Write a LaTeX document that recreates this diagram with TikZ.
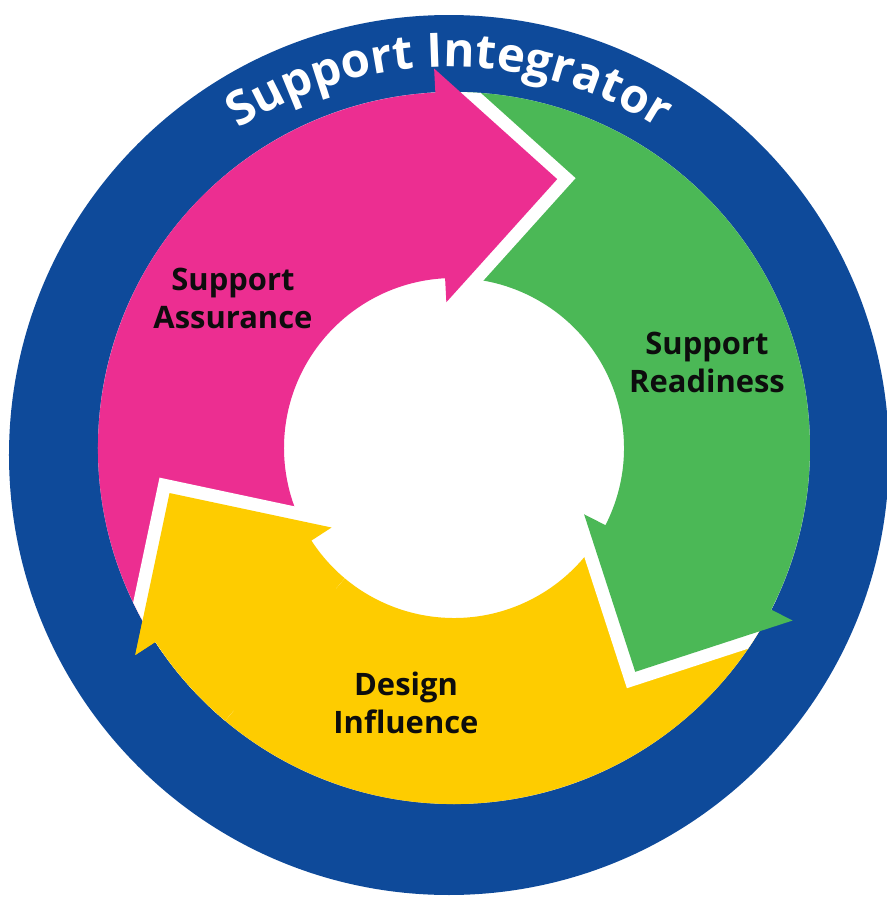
\documentclass[tikz,border=0pt]{standalone}
\usepackage{fontspec}
\setmainfont{Open Sans}
\usetikzlibrary{decorations.text}

\definecolor{ringblauw}{RGB}{14,74,154}
\definecolor{roze}{RGB}{236,46,145}
\definecolor{groen}{RGB}{75,184,86}
\definecolor{geel}{RGB}{254,204,0}

% vorm van een pijl, kop bij hoek #1
\newcommand{\pijlvorm}[1]{(#1+120:3.56) arc[start angle=#1+120, end angle=#1, radius=3.56]
  -- (#1:3.80) -- (#1-24:2.88) -- (#1:1.46) -- (#1:1.70)
  arc[start angle=#1, end angle=#1+120, radius=1.70] -- cycle}
% pijl met witte rand binnen de ring
\newcommand{\pijl}[2]{%
  \begin{scope}
    \clip (0,0) circle (3.56);
    \draw[white, line width=2.6mm] \pijlvorm{#1};
  \end{scope}
  \fill[#2] \pijlvorm{#1};}

\tikzset{
  bijschrift/.style={font=\fontsize{8.8}{10.8}\selectfont\bfseries, align=center, text=black!95}
}

\begin{document}
\begin{tikzpicture}
\useasboundingbox (-4.54,-4.49) rectangle (4.33,4.48);
% Blauwe ring
\fill[ringblauw] (-0.05,-0.07) circle (4.40);
\fill[white] (0,0) circle (1.70);
% Pijlen
\pijl{213}{geel}
\pijl{-27}{groen}
\pijl{93}{roze}
% gele kop nog eens over de roze staart
\begin{scope}
  \clip (0,0) -- (180:5) arc[start angle=180, end angle=230, radius=5] -- cycle;
  \pijl{213}{geel}
\end{scope}
% Tekst
\path[decorate, decoration={text along path, text align=center,
  text={|\color{white}\fontsize{13.5}{15}\selectfont\bfseries|Support Integrator}}]
  ([shift={(-0.05,-0.07)}]126:3.88) arc[start angle=126, end angle=54, radius=3.88];
\node[bijschrift] (assurance) at (-2.21,1.50) {Support\\Assurance};
\node[bijschrift] (readiness) at (2.53,0.86) {Support\\Readiness};
\node[bijschrift] (influence) at (-0.48,-2.55) {Design\\Influence};
\end{tikzpicture}
\end{document}
